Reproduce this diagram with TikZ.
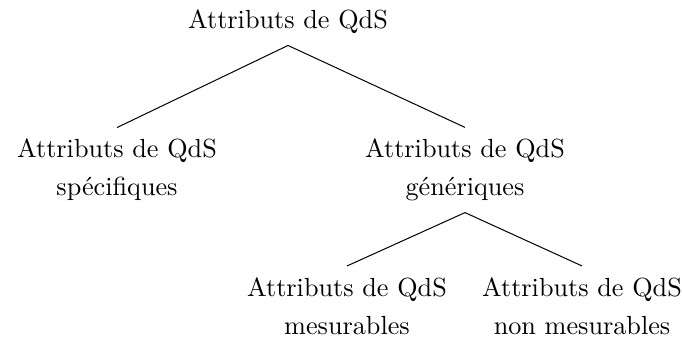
\documentclass[tikz,border=0pt]{standalone}
\usepackage{fontspec}
\begin{document}
\begin{tikzpicture}[x=1pt,y=1pt,
  lbl/.style={align=center,inner xsep=0pt,inner ysep=4.2pt,scale=1.31,transform shape,font=\fontsize{10}{14.5}\selectfont},
  edge/.style={line width=0.5pt}]
\useasboundingbox (0,0) rectangle (341.5,-169);
\node[lbl] (root) at (144,-11) {Attributs de QdS};
\node[lbl] (spec) at (58.5,-85) {Attributs de QdS\\spécifiques};
\node[lbl] (gen) at (232.5,-85) {Attributs de QdS\\génériques};
\node[lbl] (mes) at (173.5,-153) {Attributs de QdS\\mesurables};
\node[lbl] (nmes) at (291,-153) {Attributs de QdS\\non mesurables};
\draw[edge] (root.south) -- (spec.north);
\draw[edge] (root.south) -- (gen.north);
\draw[edge] (gen.south) -- (mes.north);
\draw[edge] (gen.south) -- (nmes.north);
\end{tikzpicture}
\end{document}
